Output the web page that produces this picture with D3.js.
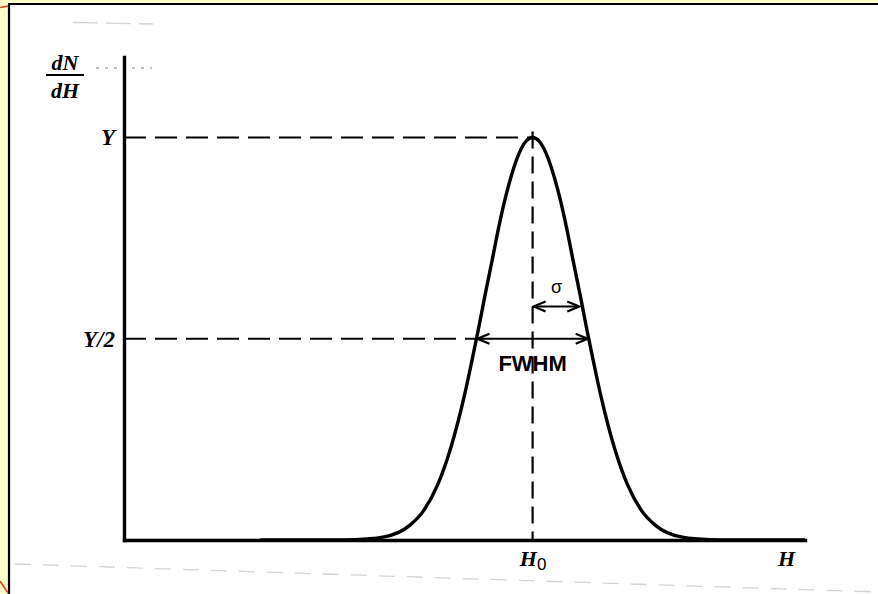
<!DOCTYPE html>
<html>
<head>
<meta charset="utf-8">
<script src="https://cdn.jsdelivr.net/npm/d3@7"></script>
<style>
  html, body { margin: 0; padding: 0; background: #ffffcc; }
  svg { display: block; }
</style>
</head>
<body>
<script>
// Peak profile dN/dH against H (schematic Gaussian line shape)
const H0 = 60;          // peak position
const peakY = 1;        // peak height Y
const sigma = 7;        // standard deviation
const halfWidth = 8.24; // half of FWHM

// sample points along the profile: H and dN/dH
const curveH = [20, 26, 30, 34, 38, 42, 44, 46, 48, 50, 51, 52, 53, 54, 55, 56, 57, 58, 59, 60,
                61, 62, 63, 64, 65, 66, 67, 68, 69, 70, 72, 74, 76, 78, 82, 86, 90, 94, 100];
const curveV = [0, 0, 0.0001, 0.001, 0.007, 0.037, 0.073, 0.135, 0.23, 0.36, 0.438, 0.52, 0.607, 0.69, 0.775, 0.85, 0.912, 0.96, 0.99, 1,
                0.99, 0.96, 0.912, 0.85, 0.775, 0.69, 0.607, 0.52, 0.438, 0.36, 0.23, 0.135, 0.073, 0.037, 0.007, 0.001, 0.0001, 0, 0];

const yTickValues = [peakY, peakY / 2];
const yTickLabels = ["Y", "Y/2"];
const sigmaLevel = 0.58;

const W = 878, H = 594;
const svg = d3.select("body").append("svg").attr("width", W).attr("height", H);

// page frame
svg.append("rect").attr("x", 0).attr("y", 0).attr("width", W).attr("height", H).attr("fill", "#ffffcc");
svg.append("rect").attr("x", 10).attr("y", 5).attr("width", W - 10).attr("height", H - 5).attr("fill", "#ffffff");
svg.append("path").attr("d", `M9,${H} L9,4 L${W},4`).attr("fill", "none").attr("stroke", "#000").attr("stroke-width", 2.2);
svg.append("path").attr("d", "M0,7.5 L8,6").attr("stroke", "#f04010").attr("stroke-width", 1.6);
svg.append("path").attr("d", "M0,581 L8,593").attr("stroke", "#f04010").attr("stroke-width", 1.6);

// faint scan marks
const faint = svg.append("g").attr("stroke", "#d4d4d4").attr("fill", "none").attr("stroke-width", 1.3);
faint.append("path").attr("d", "M73,22.5 L153,24").attr("stroke-dasharray", "25,8");
faint.append("path").attr("d", "M15,564 L878,592").attr("stroke-dasharray", "16,12");
faint.append("path").attr("d", "M96,68 L152,68").attr("stroke-dasharray", "3,6").attr("stroke", "#aaa");

const x = d3.scaleLinear().domain([0, 100]).range([124, 805]);
const y = d3.scaleLinear().domain([0, 1.2]).range([540, 57]);

// dashed guides
const guides = svg.append("g").attr("stroke", "#000").attr("stroke-width", 2.2).attr("fill", "none");
guides.append("line")
  .attr("x1", x(0)).attr("x2", x(H0)).attr("y1", y(peakY)).attr("y2", y(peakY))
  .attr("stroke-dasharray", "22,9");
guides.append("line")
  .attr("x1", x(0)).attr("x2", x(H0 - halfWidth)).attr("y1", y(peakY / 2)).attr("y2", y(peakY / 2))
  .attr("stroke-dasharray", "22,9");
guides.append("line")
  .attr("x1", x(H0)).attr("x2", x(H0)).attr("y1", y(peakY * 1.015)).attr("y2", y(0))
  .attr("stroke-dasharray", "17,8");

// curve
const pts = curveH.map((h, i) => [h, curveV[i]]);
svg.append("path")
  .datum(pts)
  .attr("fill", "none").attr("stroke", "#000").attr("stroke-width", 3.4)
  .attr("d", d3.line().x(d => x(d[0])).y(d => y(d[1])).curve(d3.curveMonotoneX));

// axes
const serif = "'Liberation Serif', 'Times New Roman', serif";
const yAxis = d3.axisLeft(y).tickValues(yTickValues).tickSize(0).tickSizeOuter(0).tickPadding(9)
  .tickFormat((d, i) => yTickLabels[i]);
const gy = svg.append("g").attr("transform", `translate(${x(0)},0)`).call(yAxis);
gy.selectAll("text")
  .attr("font-family", serif)
  .attr("font-style", "italic").attr("font-weight", "bold").attr("font-size", 23).attr("fill", "#000");

const xAxis = d3.axisBottom(x).tickValues([H0]).tickSize(0).tickSizeOuter(0).tickPadding(0).tickFormat("");
const gx = svg.append("g").attr("transform", `translate(0,${y(0)})`).call(xAxis);
const h0Label = gx.select(".tick").append("text")
  .attr("y", 26).attr("text-anchor", "middle").attr("fill", "#000")
  .attr("font-family", serif)
  .attr("font-style", "italic").attr("font-weight", "bold").attr("font-size", 22);
h0Label.append("tspan").text("H");
h0Label.append("tspan").attr("dy", 4).attr("font-style", "normal").attr("font-weight", "normal")
  .attr("font-family", "'Liberation Sans', Arial, sans-serif").attr("font-size", 17).text("0");

[gx, gy].forEach(g => g.select(".domain").attr("stroke", "#000").attr("stroke-width", 3.4)
  .attr("stroke-linecap", "square"));

// axis titles
svg.append("text").attr("x", x(97.3)).attr("y", 566).attr("text-anchor", "middle")
  .attr("font-family", serif).attr("font-style", "italic").attr("font-weight", "bold").attr("font-size", 22)
  .text("H");
const frac = svg.append("g").attr("font-family", serif).attr("font-style", "italic").attr("font-weight", "bold")
  .attr("font-size", 22).attr("text-anchor", "middle");
frac.append("text").attr("x", 65).attr("y", 70).text("dN");
frac.append("line").attr("x1", 46).attr("x2", 84).attr("y1", 75).attr("y2", 75).attr("stroke", "#000").attr("stroke-width", 2.2);
frac.append("text").attr("x", 65).attr("y", 98).text("dH");

// arrow markers (tip at the line end, arms trailing back)
const defs = svg.append("defs");
defs.append("marker").attr("id", "arr").attr("viewBox", "-14 -7 16 14")
  .attr("markerWidth", 16).attr("markerHeight", 14).attr("refX", 0).attr("refY", 0)
  .attr("markerUnits", "userSpaceOnUse").attr("orient", "auto-start-reverse")
  .append("path").attr("d", "M-12,-5 L0,0 L-12,5").attr("fill", "none").attr("stroke", "#000").attr("stroke-width", 2.2);

// FWHM arrow
svg.append("line")
  .attr("x1", x(H0 - halfWidth) + 1).attr("x2", x(H0 + halfWidth) - 1)
  .attr("y1", y(peakY / 2)).attr("y2", y(peakY / 2))
  .attr("stroke", "#000").attr("stroke-width", 2)
  .attr("marker-start", "url(#arr)").attr("marker-end", "url(#arr)");
svg.append("text").attr("x", x(H0)).attr("y", y(peakY / 2) + 32).attr("text-anchor", "middle")
  .attr("font-family", "'Liberation Sans', Arial, sans-serif").attr("font-weight", "bold").attr("font-size", 22)
  .text("FWHM");

// sigma arrow
svg.append("line")
  .attr("x1", x(H0) + 1).attr("x2", x(H0 + sigma) - 1)
  .attr("y1", y(sigmaLevel)).attr("y2", y(sigmaLevel))
  .attr("stroke", "#000").attr("stroke-width", 2)
  .attr("marker-start", "url(#arr)").attr("marker-end", "url(#arr)");
svg.append("text").attr("x", x(H0 + sigma / 2)).attr("y", y(sigmaLevel) - 14).attr("text-anchor", "middle")
  .attr("font-family", "'Liberation Sans', Arial, sans-serif").attr("font-size", 18)
  .text("σ");
</script>
</body>
</html>
